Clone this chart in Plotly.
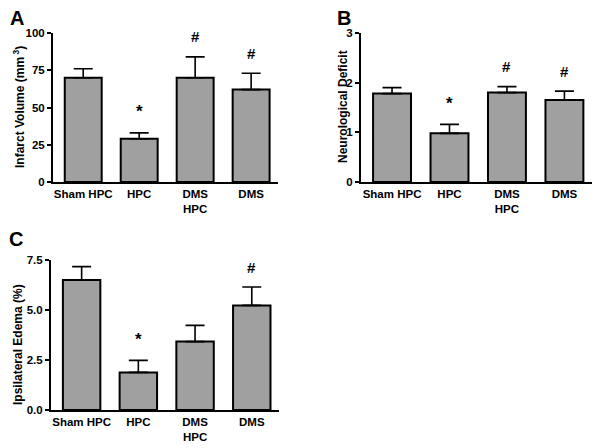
import plotly.graph_objects as go

categories = ["Sham HPC", "HPC", "DMS<br>HPC", "DMS"]

infarct_mean = [70, 29, 70, 62]
infarct_sem = [6, 4, 14, 11]
infarct_sig = ["", "*", "#", "#"]

neuro_mean = [1.78, 0.98, 1.80, 1.65]
neuro_sem = [0.12, 0.18, 0.12, 0.18]
neuro_sig = ["", "*", "#", "#"]

edema_mean = [6.5, 1.88, 3.42, 5.23]
edema_sem = [0.67, 0.6, 0.81, 0.92]
edema_sig = ["", "*", "", "#"]

# page body has an 8px margin; lay out in window pixels, then offset
OFF = 8
W, H = 600 - OFF, 448 - OFF
FONT = "Liberation Sans"
BAR = "#a0a0a0"


def px(x):
    return (x - OFF) / W


def py(y):
    return 1 - (y - OFF) / H


panels = [
    dict(mean=infarct_mean, sem=infarct_sem, sig=infarct_sig, ax="", rng=[0, 100],
         ticks=[0, 25, 50, 75, 100], tlabels=["0", "25", "50", "75", "100"],
         xd=[53, 278], yd=[182, 33], title="Infarct Volume (mm<sup> 3</sup>)",
         tx=19, ty=107, letter="A", lx=17, ly=18),
    dict(mean=neuro_mean, sem=neuro_sem, sig=neuro_sig, ax="2", rng=[0, 3],
         ticks=[0, 1, 2, 3], tlabels=["0", "1", "2", "3"],
         xd=[361, 592], yd=[182, 33], title="Neurological Deficit",
         tx=343, ty=107, letter="B", lx=344, ly=18),
    dict(mean=edema_mean, sem=edema_sem, sig=edema_sig, ax="3", rng=[0, 7.5],
         ticks=[0, 2.5, 5, 7.5], tlabels=["0.0", "2.5", "5.0", "7.5"],
         xd=[51, 279], yd=[410, 260], title="Ipsilateral Edema (%)",
         tx=18, ty=345, letter="C", lx=16, ly=239),
]

fig = go.Figure()
annotations = []
layout = {}
for p in panels:
    ax = p["ax"]
    xs = list(range(len(categories)))
    fig.add_trace(go.Bar(
        x=xs, y=p["mean"], width=0.66,
        marker=dict(color=BAR, line=dict(color="black", width=2)),
        error_y=dict(type="data", symmetric=False, array=p["sem"],
                     arrayminus=[0] * len(xs), color="black", thickness=1.6, width=9.5),
        xaxis="x" + ax, yaxis="y" + ax, showlegend=False, hoverinfo="skip",
    ))
    # significance marks
    for i, s in enumerate(p["sig"]):
        if s:
            annotations.append(dict(
                x=i, y=p["mean"][i] + p["sem"][i], xref="x" + ax, yref="y" + ax,
                text="<b>" + s + "</b>", showarrow=False, yanchor="middle",
                yshift=21 if s == "*" else 20,
                font=dict(family=FONT, size=17 if s == "*" else 15, color="black"),
            ))
    annotations.append(dict(
        x=px(p["tx"]), y=py(p["ty"]), xref="paper", yref="paper",
        text="<b>" + p["title"] + "</b>", textangle=-90, showarrow=False,
        xanchor="center", yanchor="middle",
        font=dict(family=FONT, size=12, color="black"),
    ))
    annotations.append(dict(
        x=px(p["lx"]), y=py(p["ly"]), xref="paper", yref="paper",
        text="<b>" + p["letter"] + "</b>", showarrow=False,
        xanchor="center", yanchor="middle",
        font=dict(family=FONT, size=20, color="black"),
    ))
    layout["xaxis" + ax] = dict(
        domain=[px(p["xd"][0]), px(p["xd"][1])], range=[-0.54, 3.48],
        tickvals=xs, ticktext=["<b>" + c + "</b>" for c in categories],
        ticks="", showline=True, linecolor="black", linewidth=2,
        showgrid=False, zeroline=False, anchor="y" + ax, automargin=False,
        tickfont=dict(family=FONT, size=11.5, color="black"), fixedrange=True,
    )
    layout["yaxis" + ax] = dict(
        domain=[py(p["yd"][0]), py(p["yd"][1])], range=p["rng"],
        tickvals=p["ticks"], ticktext=["<b>" + t + "</b>" for t in p["tlabels"]],
        ticks="outside", ticklen=4, tickwidth=1.5, tickcolor="black",
        showline=True, linecolor="black", linewidth=2,
        showgrid=False, zeroline=False, anchor="x" + ax, automargin=False,
        tickfont=dict(family=FONT, size=11.5, color="black"), fixedrange=True,
    )

fig.update_layout(
    width=W, height=H, margin=dict(l=0, r=0, t=0, b=0, autoexpand=False),
    paper_bgcolor="white", plot_bgcolor="white",
    annotations=annotations, bargap=0.34, **layout,
)
fig.write_html("out.html", config={"displayModeBar": False})
